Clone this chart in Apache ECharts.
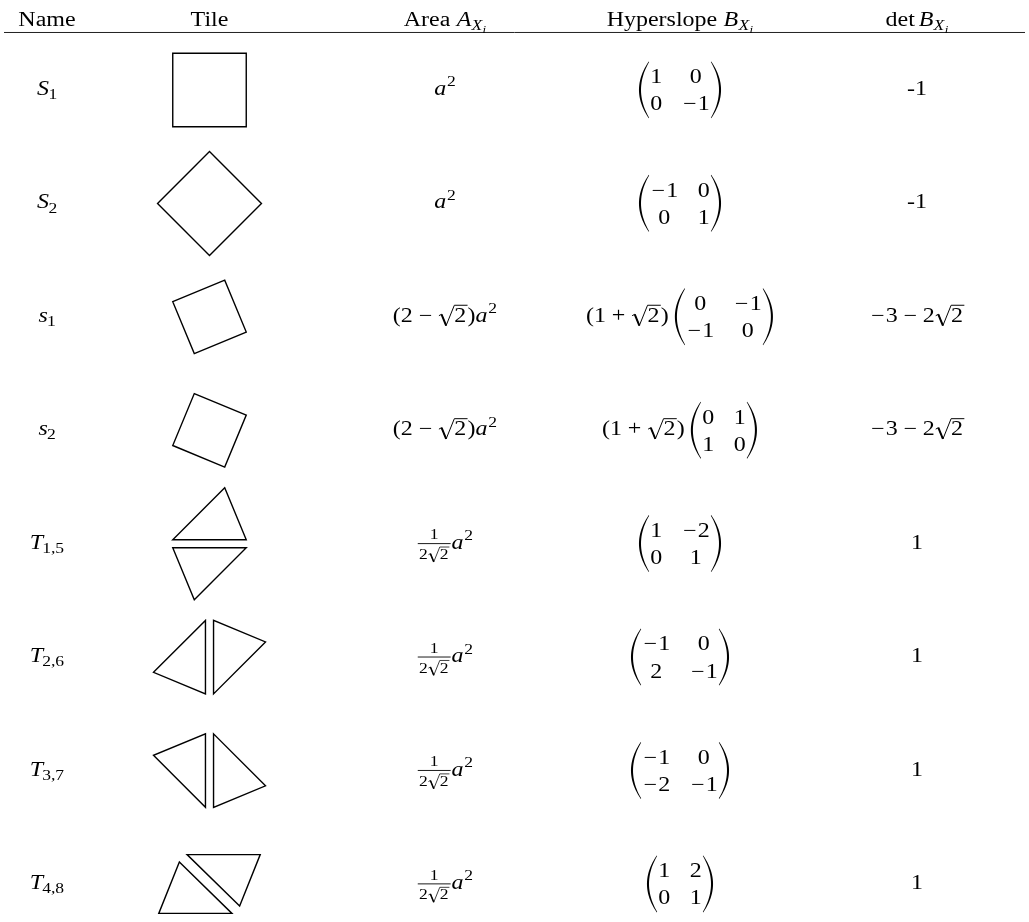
<!DOCTYPE html>
<html><head><meta charset="utf-8">
<script src="https://cdn.jsdelivr.net/npm/echarts@6/dist/echarts.min.js"></script>
<style>html,body{margin:0;padding:0;background:#fff}#c{width:1029px;height:922px}</style>
</head><body><div id="c"></div>
<script>
// ================= DATA =================
const headers = ['Name', 'Tile', 'Area $A_{X_i}$', 'Hyperslope $B_{X_i}$', '$\\det B_{X_i}$'];
const names = ['$S_1$', '$S_2$', '$s_1$', '$s_2$', '$T_{1,5}$', '$T_{2,6}$', '$T_{3,7}$', '$T_{4,8}$'];
const areas = ['$a^2$', '$a^2$', '$(2-\\sqrt{2})a^2$', '$(2-\\sqrt{2})a^2$',
  '$\\frac{1}{2\\sqrt{2}}a^2$', '$\\frac{1}{2\\sqrt{2}}a^2$', '$\\frac{1}{2\\sqrt{2}}a^2$', '$\\frac{1}{2\\sqrt{2}}a^2$'];
const slopeFactors = ['', '', '$(1+\\sqrt{2})$', '$(1+\\sqrt{2})$', '', '', '', ''];
const slopeMatrices = [
  [[1, 0], [0, -1]],
  [[-1, 0], [0, 1]],
  [[0, -1], [-1, 0]],
  [[0, 1], [1, 0]],
  [[1, -2], [0, 1]],
  [[-1, 0], [2, -1]],
  [[-1, 0], [-2, -1]],
  [[1, 2], [0, 1]]
];
const dets = ['-1', '-1', '$-3-2\\sqrt{2}$', '$-3-2\\sqrt{2}$', '1', '1', '1', '1'];
// tile outlines, in units of the tile side a (x right, y down, about the tile centre)
const tiles = [
  [[[-0.5, -0.5], [0.5, -0.5], [0.5, 0.5], [-0.5, 0.5]]],
  [[[-0.707, 0], [0, -0.707], [0.707, 0], [0, 0.707]]],
  [[[-0.5, -0.207], [0.207, -0.5], [0.5, 0.207], [-0.207, 0.5]]],
  [[[-0.207, -0.5], [0.5, -0.207], [0.207, 0.5], [-0.5, 0.207]]],
  [[[-0.5, -0.055], [0.5, -0.055], [0.207, -0.762]], [[-0.5, 0.055], [0.5, 0.055], [-0.207, 0.762]]],
  [[[-0.055, -0.5], [-0.055, 0.5], [-0.762, 0.207]], [[0.055, -0.5], [0.055, 0.5], [0.762, -0.207]]],
  [[[-0.055, -0.5], [-0.055, 0.5], [-0.762, -0.207]], [[0.055, -0.5], [0.055, 0.5], [0.762, 0.207]]],
  [[[-0.69, 0.40], [0.305, 0.40], [-0.41, -0.30]], [[0.69, -0.40], [-0.305, -0.40], [0.41, 0.30]]]
];

// ================= LAYOUT / STYLE =================
const W = 1029, H = 922;
const colX = [47, 209.5, 445, 680, 917];
const ROW0 = 90, ROWSTEP = 113.43;
const TILE = 73.5;
const SIZES = [20.5, 15, 11];
const HS = 1.17; // horizontal stretch of glyphs (Computer-Modern-like proportions)
const ITALIC_EM = { A: 0.75, B: 0.76, X: 0.83, S: 0.62, T: 0.6, a: 0.53, s: 0.47, i: 0.35 };
const FAM = '"Liberation Serif", "DejaVu Serif", serif';
const INK = '#000';

// ================= mini math typesetter =================
const mctx = document.createElement('canvas').getContext('2d');
function fontStr(size, it) { return (it ? 'italic ' : '') + size + 'px ' + FAM; }
const midCache = {};
function midOff(f) {
  if (midCache[f] != null) return midCache[f];
  mctx.font = f; mctx.textBaseline = 'middle';
  const a = mctx.measureText('H').actualBoundingBoxDescent;
  mctx.textBaseline = 'alphabetic';
  const b = mctx.measureText('H').actualBoundingBoxDescent;
  return (midCache[f] = a - b);
}
function measure(s, f) { mctx.font = f; mctx.textBaseline = 'alphabetic'; return mctx.measureText(s).width * HS; }
function txtEl(s, x, b, f) {
  return { type: 'text', x: x, y: b - midOff(f), scaleX: HS, scaleY: 1,
    style: { text: s, x: 0, y: 0, font: f, fill: INK,
      align: 'left', verticalAlign: 'middle', textAlign: 'left', textVerticalAlign: 'middle' } };
}
function textBox(s, size, it) {
  const f = fontStr(size, it); const gw = measure(s, f);
  let w = gw;
  if (it && ITALIC_EM[s]) w = Math.max(gw, ITALIC_EM[s] * size);
  const off = (w - gw) * 0.4;
  return { w, h: 0.68 * size, d: 0.2 * size, draw(x, b) { return [txtEl(s, x + off, b, f)]; } };
}
function opBox(ch, size) {
  const f = fontStr(size, false); const gw = measure(ch, f); const w = Math.max(gw, 0.78 * size);
  return { w, h: 0.6 * size, d: 0.1 * size, draw(x, b) { return [txtEl(ch, x + (w - gw) / 2, b, f)]; } };
}
function space(w) { return { w, h: 0, d: 0, draw() { return []; } }; }
function hbox(items) {
  let w = 0, h = 0, d = 0;
  items.forEach(it => { w += it.w; h = Math.max(h, it.h); d = Math.max(d, it.d); });
  return { w, h, d, draw(x, b) { let out = [], cx = x; items.forEach(it => { out = out.concat(it.draw(cx, b)); cx += it.w; }); return out; } };
}
function shift(box, dy) { return { w: box.w, h: box.h - dy, d: box.d + dy, draw(x, b) { return box.draw(x, b + dy); } }; }
function scriptBox(nuc, t, scr, size) {
  const dy = t === '_' ? 0.2 * size : -0.42 * size;
  return hbox([nuc, space(t === '^' ? 0.04 * size : -0.05 * size), shift(scr, dy)]);
}
function sqrtBox(inner, size) {
  const rw = 0.8 * size, pad = 0.06 * size, gap = 0.13 * size;
  const ih = Math.max(inner.h, 0.68 * size);
  return { w: rw + inner.w + pad, h: ih + gap + 1, d: Math.max(inner.d, 0.2 * size),
    draw(x, b) {
      const top = b - ih - gap;
      const lw = Math.max(0.75, size * 0.048);
      const p0 = [x + 0.06 * rw, b - 0.30 * size], p1 = [x + 0.22 * rw, b - 0.37 * size],
            p2 = [x + 0.5 * rw, b + 0.18 * size], p3 = [x + rw, top];
      return [
        { type: 'polyline', shape: { points: [p0, p1, p2, p3, [x + rw + inner.w + pad, top]] },
          style: { stroke: INK, fill: 'none', lineWidth: lw, lineJoin: 'miter' } },
        { type: 'line', shape: { x1: p1[0], y1: p1[1], x2: p2[0], y2: p2[1] }, style: { stroke: INK, lineWidth: lw * 2 } }
      ].concat(inner.draw(x + rw, b));
    } };
}
function fracBox(num, den, size) {
  const pad = 0.1 * size, w = Math.max(num.w, den.w) + 2 * pad, axis = 0.25 * size;
  return { w, h: axis + 0.2 * size + num.h, d: 0.75 * size + den.d - axis,
    draw(x, b) {
      const ay = b - axis;
      return [{ type: 'line', shape: { x1: x + pad * 0.4, y1: ay, x2: x + w - pad * 0.4, y2: ay }, style: { stroke: INK, lineWidth: 0.9 } }]
        .concat(num.draw(x + (w - num.w) / 2, ay - 0.2 * size), den.draw(x + (w - den.w) / 2, ay + 0.76 * size));
    } };
}
function parenPts(x, pw, top, bot, left, size) {
  const mid = (top + bot) / 2;
  const q = (x0, c, x1, t) => (1 - t) * (1 - t) * x0 + 2 * (1 - t) * t * c + t * t * x1;
  const xEnd = 0.88 * pw, xExt = 0.08 * pw, th = 0.1 * size, te = 0.35;
  const outer = [], inner = [];
  const N = 24;
  for (let k = 0; k <= N; k++) {
    const t = k / N;
    outer.push([q(xEnd, 2 * xExt - xEnd, xEnd, t), q(top, mid, bot, t)]);
  }
  for (let k = N; k >= 0; k--) {
    const t = k / N;
    inner.push([q(xEnd + te, 2 * (xExt + th) - xEnd - te, xEnd + te, t), q(top + 0.6, mid, bot - 0.6, t)]);
  }
  return outer.concat(inner).map(p => [left ? x + p[0] : x + pw - p[0], p[1]]);
}
function matBox(M, size) {
  const cells = M.map(r => r.map(v => {
    if (v < 0) return hbox([opBox('\u2212', size), textBox(String(-v), size, false)]);
    return textBox(String(v), size, false);
  }));
  const ncol = M[0].length;
  const colW = [];
  for (let c = 0; c < ncol; c++) colW.push(Math.max(...cells.map(r => r[c].w)));
  const gap = 0.95 * size, pw = 0.6 * size;
  const inner = colW.reduce((s, v) => s + v, 0) + gap * (ncol - 1);
  const w = pw * 2 + inner;
  return { w, h: 1.6 * size, d: 1.2 * size,
    draw(x, b) {
      const axis = b - 0.25 * size;
      const rb = [axis - 0.32 * size, axis + 1.0 * size];
      const top = axis - 1.39 * size, bot = axis + 1.39 * size;
      let out = [
        { type: 'polygon', shape: { points: parenPts(x, pw, top, bot, true, size) }, style: { fill: INK, stroke: null } },
        { type: 'polygon', shape: { points: parenPts(x + pw + inner, pw, top, bot, false, size) }, style: { fill: INK, stroke: null } }
      ];
      cells.forEach((r, ri) => {
        let cx = x + pw;
        r.forEach((cell, ci) => {
          out = out.concat(cell.draw(cx + (colW[ci] - cell.w) / 2, rb[ri]));
          cx += colW[ci] + gap;
        });
      });
      return out;
    } };
}
function parse(str, lvl, math) {
  const size = SIZES[lvl];
  const items = [];
  let i = 0;
  const readGroup = () => {
    while (str[i] === ' ') i++;
    if (str[i] === '{') {
      let dpt = 1, j = i + 1;
      while (dpt > 0) { if (str[j] === '{') dpt++; else if (str[j] === '}') dpt--; j++; }
      const g = str.slice(i + 1, j - 1); i = j; return g;
    }
    return str[i++];
  };
  while (i < str.length) {
    const c = str[i];
    if (c === '$') { math = !math; i++; continue; }
    if (!math) {
      let j = i; while (j < str.length && str[j] !== '$') j++;
      items.push({ box: textBox(str.slice(i, j), size, false), kind: 'text' }); i = j; continue;
    }
    if (c === ' ') { i++; continue; }
    if (c === '_' || c === '^') {
      i++; const g = readGroup();
      const scr = parse(g, Math.min(lvl + 1, 2), true);
      const prev = items.pop();
      items.push({ box: scriptBox(prev.box, c, scr, size), kind: prev.kind }); continue;
    }
    if (c === '\\') {
      let j = i + 1; while (j < str.length && /[a-zA-Z]/.test(str[j])) j++;
      const cmd = str.slice(i + 1, j); i = j;
      if (cmd === 'sqrt') { items.push({ box: sqrtBox(parse(readGroup(), lvl, true), size), kind: 'ord' }); }
      else if (cmd === 'frac') {
        const n = readGroup(), d = readGroup(), sl = Math.min(lvl + 1, 2);
        items.push({ box: fracBox(parse(n, sl, true), parse(d, sl, true), size), kind: 'ord' });
      } else if (cmd === 'det') { items.push({ box: textBox('det', size, false), kind: 'op' }); }
      continue;
    }
    if (c === '-' || c === '+') {
      const pk = items.length ? items[items.length - 1].kind : null;
      const bin = pk === 'ord' || pk === 'close';
      items.push({ box: opBox(c === '-' ? '\u2212' : '+', size), kind: bin ? 'bin' : 'unary' }); i++; continue;
    }
    if (c === '(') { items.push({ box: textBox('(', size, false), kind: 'open' }); i++; continue; }
    if (c === ')') { items.push({ box: textBox(')', size, false), kind: 'close' }); i++; continue; }
    if (/[A-Za-z]/.test(c)) { items.push({ box: textBox(c, size, true), kind: 'ord' }); i++; continue; }
    items.push({ box: textBox(c, size, false), kind: 'ord' }); i++;
  }
  const boxes = [];
  items.forEach((it, k) => {
    if (k > 0) {
      const pv = items[k - 1];
      if ((it.kind === 'bin' || pv.kind === 'bin') && lvl === 0) boxes.push(space(0.222 * size));
      else if (pv.kind === 'op' && it.kind === 'ord') boxes.push(space(0.167 * size));
    }
    boxes.push(it.box);
  });
  return hbox(boxes);
}

// ================= CHART =================
const chart = echarts.init(document.getElementById('c'), null, { renderer: 'canvas' });
const BASE_DROP = 5; // text baseline below row centre (math axis)
function cellSeries(builder, col, n) {
  return {
    type: 'custom', coordinateSystem: 'cartesian2d', silent: true, animation: false, clip: false,
    data: Array.from({ length: n }, (_, r) => [colX[col], r]),
    renderItem(params, api) {
      const p = api.coord([api.value(0), api.value(1)]);
      const box = builder(params.dataIndex);
      return { type: 'group', children: box.draw(p[0] - box.w / 2, p[1] + BASE_DROP) };
    }
  };
}
const option = {
  backgroundColor: '#fff',
  animation: false,
  grid: { left: 0, top: ROW0 - ROWSTEP / 2, width: W, height: ROWSTEP * 8, containLabel: false, outerBoundsMode: 'none' },
  xAxis: { type: 'value', min: 0, max: W, show: false },
  yAxis: { type: 'value', min: -0.5, max: 7.5, inverse: true, show: false },
  series: [
    { // header row + rule
      type: 'custom', coordinateSystem: 'cartesian2d', silent: true, animation: false, clip: false,
      data: headers.map((h, i) => [colX[i], -0.5]),
      renderItem(params, api) {
        const p = api.coord([api.value(0), api.value(1)]);
        const box = parse(headers[params.dataIndex], 0, false);
        const children = box.draw(p[0] - box.w / 2, p[1] - 7.3);
        if (params.dataIndex === 0) {
          const cs = params.coordSys;
          children.push({ type: 'line', shape: { x1: cs.x + 4, y1: p[1] - 0.8, x2: cs.x + cs.width - 4, y2: p[1] - 0.8 },
            style: { stroke: '#222', lineWidth: 1 } });
        }
        return { type: 'group', children };
      }
    },
    cellSeries(i => parse(names[i], 0, false), 0, names.length),
    { // tiles
      type: 'custom', coordinateSystem: 'cartesian2d', silent: true, animation: false, clip: false,
      data: tiles.map((t, r) => [colX[1], r]),
      renderItem(params, api) {
        const c = api.coord([api.value(0), api.value(1)]);
        return { type: 'group', children: tiles[params.dataIndex].map(poly => ({
          type: 'polygon',
          shape: { points: poly.map(q => [c[0] + q[0] * TILE, c[1] + q[1] * TILE]) },
          style: { fill: 'none', stroke: INK, lineWidth: 1.4, lineJoin: 'miter' }
        })) };
      }
    },
    cellSeries(i => parse(areas[i], 0, false), 2, areas.length),
    cellSeries(i => {
      const m = matBox(slopeMatrices[i], SIZES[0]);
      if (!slopeFactors[i]) return m;
      return hbox([parse(slopeFactors[i], 0, false), space(0.25 * SIZES[0]), m]);
    }, 3, slopeMatrices.length),
    cellSeries(i => parse(dets[i], 0, false), 4, dets.length)
  ]
};
chart.setOption(option);
</script>
</body></html>
